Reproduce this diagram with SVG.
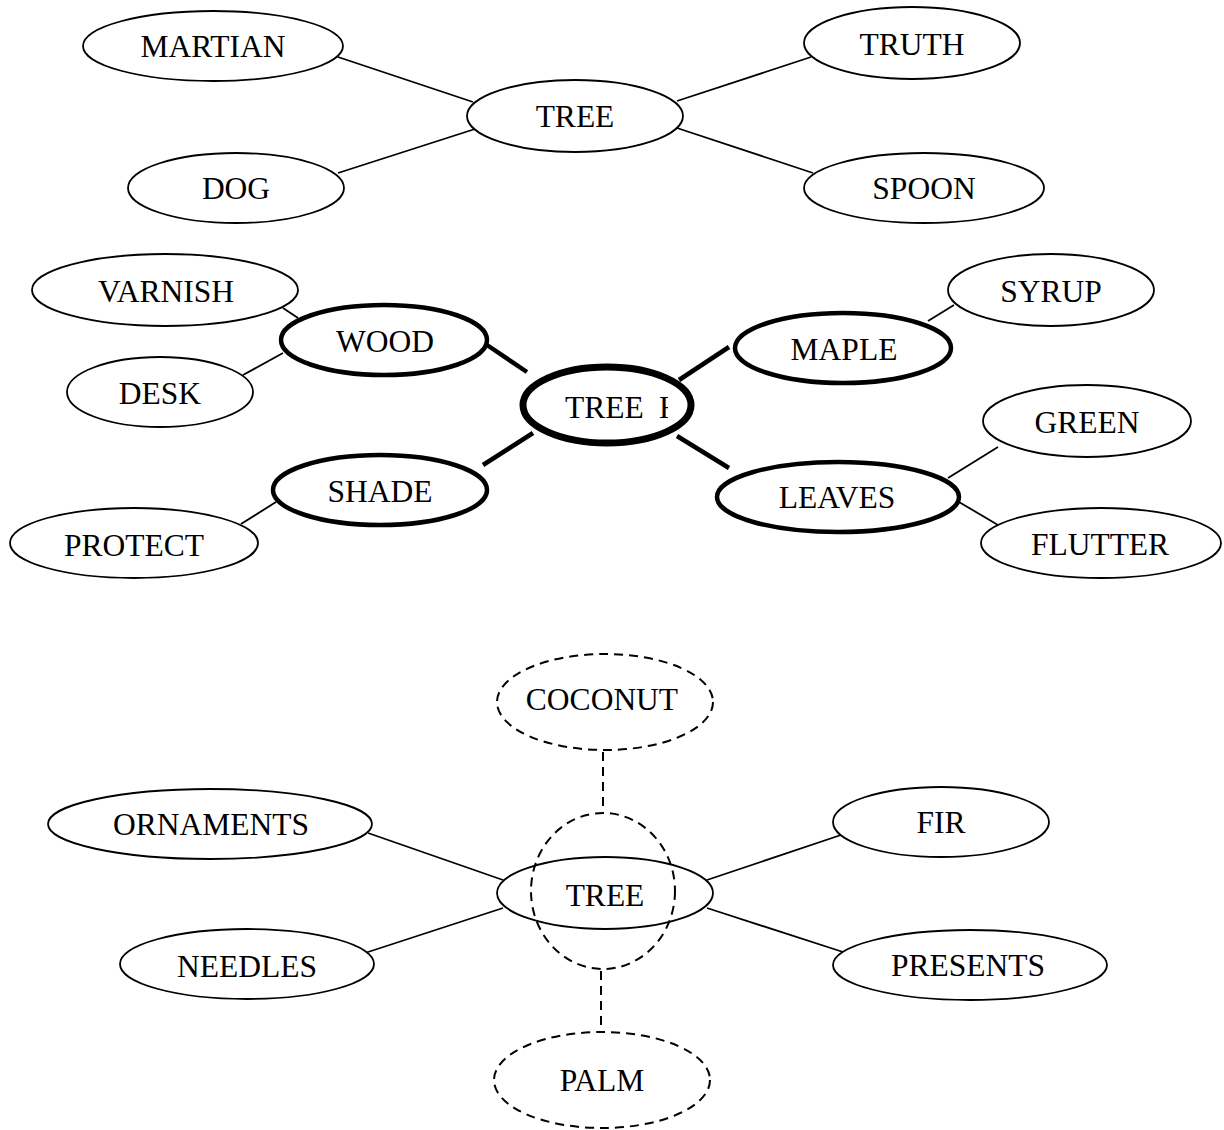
<svg xmlns="http://www.w3.org/2000/svg" width="1224" height="1130" viewBox="0 0 1224 1130">
<style>
  text { font-family: "Liberation Serif", "Times New Roman", serif; font-size: 31.5px; fill: #000; text-anchor: middle; }
  .n { fill: #fff; stroke: #000; stroke-width: 1.8; }
  .nb { fill: #fff; stroke: #000; stroke-width: 4.5; }
  .nc { fill: #fff; stroke: #000; stroke-width: 7; }
  .nd { fill: none; stroke: #000; stroke-width: 2; stroke-dasharray: 9 6; }
  .l { stroke: #000; stroke-width: 1.8; fill: none; }
  .lb { stroke: #000; stroke-width: 4.5; fill: none; }
  .ld { stroke: #000; stroke-width: 2; fill: none; stroke-dasharray: 9 6; }
</style>
<defs>
  <clipPath id="clipTree"><rect x="0" y="0" width="668" height="1130"/></clipPath>
</defs>
<rect width="1224" height="1130" fill="#fff"/>
<g id="connectors">
  <line class="l" x1="338" y1="57" x2="473" y2="102"/>
  <line class="l" x1="338" y1="173" x2="475" y2="129"/>
  <line class="l" x1="677" y1="101" x2="811" y2="57"/>
  <line class="l" x1="677" y1="128" x2="813" y2="173"/>

  <line class="l" x1="283" y1="308" x2="298" y2="318"/>
  <line class="l" x1="243" y1="375" x2="283" y2="353"/>
  <line class="lb" x1="487" y1="345" x2="527" y2="372"/>
  <line class="lb" x1="533" y1="433" x2="483" y2="465"/>
  <line class="l" x1="241" y1="524" x2="276" y2="502"/>
  <line class="lb" x1="679" y1="380" x2="729" y2="347"/>
  <line class="lb" x1="677" y1="436" x2="729" y2="468"/>
  <line class="l" x1="928" y1="321" x2="954" y2="305"/>
  <line class="l" x1="948" y1="478" x2="998" y2="447"/>
  <line class="l" x1="959" y1="502" x2="998" y2="525"/>

  <line class="l" x1="368" y1="833" x2="503" y2="880"/>
  <line class="l" x1="365" y1="953" x2="503" y2="908"/>
  <line class="l" x1="707" y1="880" x2="841" y2="835"/>
  <line class="l" x1="707" y1="908" x2="843" y2="952"/>
  <line class="ld" x1="603" y1="752" x2="603" y2="813"/>
  <line class="ld" x1="601" y1="971" x2="601" y2="1031"/>
</g>

<g id="top-tree"><ellipse class="n" cx="575" cy="116" rx="108" ry="36"/><text x="575" y="127">TREE</text></g>
<g id="martian"><ellipse class="n" cx="213" cy="46" rx="130" ry="35"/><text x="213" y="57">MARTIAN</text></g>
<g id="dog"><ellipse class="n" cx="236" cy="188" rx="108" ry="35"/><text x="236" y="199">DOG</text></g>
<g id="truth"><ellipse class="n" cx="912" cy="43" rx="108" ry="36"/><text x="912" y="55">TRUTH</text></g>
<g id="spoon"><ellipse class="n" cx="924" cy="188" rx="120" ry="35"/><text x="924" y="199">SPOON</text></g>

<g id="varnish"><ellipse class="n" cx="165" cy="290" rx="133" ry="36"/><text x="166" y="302">VARNISH</text></g>
<g id="wood"><ellipse class="nb" cx="384" cy="340" rx="103" ry="35"/><text x="385" y="352">WOOD</text></g>
<g id="desk"><ellipse class="n" cx="160" cy="392" rx="93" ry="35"/><text x="160" y="404">DESK</text></g>
<g id="shade"><ellipse class="nb" cx="380" cy="490" rx="107" ry="35"/><text x="380" y="502">SHADE</text></g>
<g id="protect"><ellipse class="n" cx="134" cy="543" rx="124" ry="35"/><text x="134" y="556">PROTECT</text></g>
<g id="mid-tree"><ellipse class="nc" cx="607" cy="405" rx="84" ry="38"/><text x="565" y="418" clip-path="url(#clipTree)" style="text-anchor:start">TREE<tspan x="659">H</tspan></text></g>
<g id="maple"><ellipse class="nb" cx="843" cy="348" rx="108" ry="35"/><text x="844" y="360">MAPLE</text></g>
<g id="syrup"><ellipse class="n" cx="1051" cy="290" rx="103" ry="36"/><text x="1051" y="302">SYRUP</text></g>
<g id="leaves"><ellipse class="nb" cx="838" cy="497" rx="121" ry="35"/><text x="837" y="508">LEAVES</text></g>
<g id="green"><ellipse class="n" cx="1087" cy="421" rx="104" ry="36"/><text x="1087" y="433">GREEN</text></g>
<g id="flutter"><ellipse class="n" cx="1101" cy="543" rx="120" ry="35"/><text x="1100" y="555">FLUTTER</text></g>

<g id="coconut"><ellipse class="nd" cx="605" cy="702" rx="108" ry="48"/><text x="602" y="710">COCONUT</text></g>
<g id="ornaments"><ellipse class="n" cx="210" cy="824" rx="162" ry="35"/><text x="211" y="835">ORNAMENTS</text></g>
<g id="needles"><ellipse class="n" cx="247" cy="964" rx="127" ry="35"/><text x="247" y="977">NEEDLES</text></g>
<g id="fir"><ellipse class="n" cx="941" cy="822" rx="108" ry="35"/><text x="941" y="833">FIR</text></g>
<g id="presents"><ellipse class="n" cx="970" cy="965" rx="137" ry="35"/><text x="968" y="976">PRESENTS</text></g>
<g id="bottom-tree"><ellipse class="n" cx="605" cy="893" rx="108" ry="36"/><text x="605" y="906">TREE</text></g>
<g id="dashed-circle"><ellipse class="nd" cx="603" cy="891" rx="72" ry="78"/></g>
<g id="palm"><ellipse class="nd" cx="602" cy="1080" rx="108" ry="48"/><text x="602" y="1091">PALM</text></g>
</svg>
